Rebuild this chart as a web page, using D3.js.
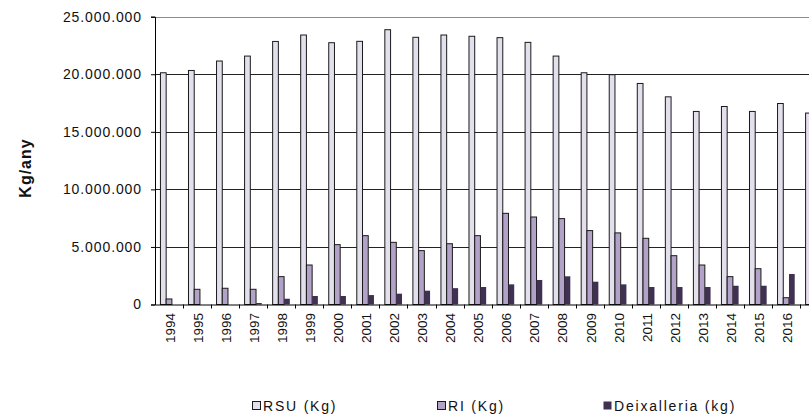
<!DOCTYPE html>
<html>
<head>
<meta charset="utf-8">
<script src="https://cdn.jsdelivr.net/npm/d3@7"></script>
<style>
  body { margin: 0; background: #fff; }
  svg { display: block; font-family: "Liberation Sans", Arial, sans-serif; }
</style>
</head>
<body>
<svg id="chart"></svg>
<script>
// data (2017 is cut off at the right edge)
var years = ["1994", "1995", "1996", "1997", "1998", "1999", "2000", "2001", "2002", "2003", "2004", "2005",
             "2006", "2007", "2008", "2009", "2010", "2011", "2012", "2013", "2014", "2015", "2016", "2017"];

var rsu = [20130000, 20330000, 21150000, 21580000, 22850000, 23410000, 22740000, 22860000, 23870000, 23210000,
           23410000, 23300000, 23180000, 22770000, 21580000, 20130000, 19960000, 19200000, 18040000, 16770000,
           17200000, 16770000, 17460000, 16630000];

var ri = [480000, 1320000, 1410000, 1320000, 2420000, 3430000, 5200000, 5980000, 5400000, 4680000,
          5280000, 5980000, 7920000, 7600000, 7460000, 6420000, 6220000, 5750000, 4240000, 3430000,
          2420000, 3110000, 590000, 600000];

var deix = [0, 0, 0, 130000, 500000, 740000, 740000, 820000, 940000, 1200000,
            1420000, 1520000, 1750000, 2130000, 2450000, 1980000, 1750000, 1520000, 1520000, 1520000,
            1630000, 1630000, 2650000, 2600000];

var seriesNames = ["RSU (Kg)", "RI (Kg)", "Deixalleria (kg)"];
var seriesData = [rsu, ri, deix];
var yTicks = [0, 5000000, 10000000, 15000000, 20000000, 25000000];

var colors = ["#e4dfec", "#b3a2c7", "#403152"];

// Set up the SVG container
var width = 809, height = 418;
var plotLeft = 155, plotTop = 16.7, plotBottom = 304.5;
var step = 28.05;

var svg = d3.select("#chart")
    .attr("width", width)
    .attr("height", height);

var fmt = d3.formatLocale({ decimal: ",", thousands: ".", grouping: [3], currency: ["", ""] }).format(",");

// Scales
var xScale = d3.scaleBand()
    .domain(years)
    .range([plotLeft, plotLeft + step * years.length])
    .paddingInner(0)
    .paddingOuter(0);

var xSub = d3.scaleBand()
    .domain(d3.range(seriesNames.length))
    .range([0, xScale.bandwidth()])
    .paddingInner(0)
    .paddingOuter(0.95);

var yScale = d3.scaleLinear()
    .domain([0, 25000000])
    .range([plotBottom, plotTop]);

// Gridlines
svg.append("g")
    .selectAll("line")
    .data(yTicks.filter(function(d) { return d > 0; }))
    .enter().append("line")
    .attr("x1", plotLeft)
    .attr("x2", plotLeft + step * years.length)
    .attr("y1", function(d) { return Math.round(yScale(d)) + 0.5; })
    .attr("y2", function(d) { return Math.round(yScale(d)) + 0.5; })
    .attr("stroke", function(d) { return d === 25000000 ? "#8a8a8a" : "#222"; })
    .attr("stroke-width", 1);

// Bars
var groups = svg.append("g")
    .selectAll("g")
    .data(years)
    .enter().append("g")
    .attr("transform", function(d) { return "translate(" + xScale(d) + ",0)"; });

groups.selectAll("rect")
    .data(function(d, i) {
        return seriesData.map(function(s, k) { return { k: k, v: s[i] }; })
            .filter(function(e) { return e.v > 0; });
    })
    .enter().append("rect")
    .attr("x", function(d) { return xSub(d.k); })
    .attr("y", function(d) { return yScale(d.v); })
    .attr("width", xSub.bandwidth())
    .attr("height", function(d) { return plotBottom - yScale(d.v); })
    .attr("fill", function(d) { return colors[d.k]; })
    .attr("stroke", function(d) { return d.k === 2 ? "none" : "#1a1a1a"; })
    .attr("stroke-width", 1);

// Y axis
var yAxis = svg.append("g")
    .attr("transform", "translate(" + plotLeft + ",0)")
    .call(d3.axisLeft(yScale)
        .tickValues(yTicks)
        .tickSize(4)
        .tickPadding(9)
        .tickFormat(fmt))
    .attr("font-family", null)
    .attr("font-size", null);
yAxis.select(".domain").attr("stroke", "#000");
yAxis.selectAll(".tick line").attr("stroke", "#000");
yAxis.selectAll("text")
    .attr("fill", "#111")
    .style("font-size", "14px")
    .style("letter-spacing", "0.9px");

// X axis
var xAxis = svg.append("g")
    .attr("transform", "translate(0," + plotBottom + ")")
    .call(d3.axisBottom(xScale).tickSize(0).tickFormat(""));
xAxis.select(".domain").attr("stroke", "#000");

// category separator ticks
svg.append("g")
    .selectAll("line")
    .data(years)
    .enter().append("line")
    .attr("x1", function(d) { return Math.round(xScale(d) + step) + 0.5; })
    .attr("x2", function(d) { return Math.round(xScale(d) + step) + 0.5; })
    .attr("y1", plotBottom)
    .attr("y2", plotBottom + 4)
    .attr("stroke", "#000");

// year labels (the last one falls outside the picture, as in the original)
svg.append("g")
    .selectAll("text")
    .data(years.filter(function(d) { return xScale(d) + step / 2 + 7 < width; }))
    .enter().append("text")
    .attr("transform", function(d) { return "translate(" + (xScale(d) + step / 2 + 1) + ",313) rotate(-90)"; })
    .attr("dy", "0.35em")
    .style("text-anchor", "end")
    .style("font-size", "13.5px")
    .attr("fill", "#111")
    .text(function(d) { return d; });

// Y axis label
svg.append("text")
    .attr("transform", "rotate(-90)")
    .attr("x", -168)
    .attr("y", 31)
    .style("text-anchor", "middle")
    .style("font-size", "16px")
    .style("font-weight", "bold")
    .style("letter-spacing", "1px")
    .attr("fill", "#111")
    .text("Kg/any");

// Legend
var legendX = [252, 437, 603];
var legend = svg.append("g")
    .selectAll("g")
    .data(seriesNames)
    .enter().append("g")
    .attr("transform", function(d, i) { return "translate(" + legendX[i] + ",401)"; });

legend.append("rect")
    .attr("x", 0.5)
    .attr("y", 0.5)
    .attr("width", 8)
    .attr("height", 8)
    .attr("fill", function(d, i) { return colors[i]; })
    .attr("stroke", function(d, i) { return i === 2 ? "none" : "#1a1a1a"; });

legend.append("text")
    .attr("x", 11)
    .attr("y", 9.5)
    .style("font-size", "14px")
    .style("letter-spacing", "1.8px")
    .attr("fill", "#111")
    .text(function(d) { return d; });
</script>
</body>
</html>
